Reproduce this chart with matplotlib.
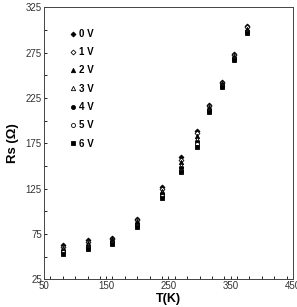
import matplotlib
matplotlib.use("Agg")
import matplotlib.pyplot as plt
from matplotlib.ticker import MultipleLocator, FixedLocator

plt.rcParams['font.family'] = ['Liberation Sans', 'DejaVu Sans']

# temperature (K)
T = [80, 120, 160, 200, 240, 270, 296, 316, 336, 356, 376]

# series resistance (ohm) for each bias voltage
rs_0v = [63, 68, 71, 92, 127, 160, 189, 217, 243, 274, 304]
rs_1v = [61, 66, 70, 90, 125, 157, 186, 216, 242, 273, 303]
rs_2v = [60, 65, 69, 89, 123, 154, 183, 215, 241, 271, 301]
rs_3v = [58, 63, 67, 87, 121, 151, 180, 213, 240, 270, 300]
rs_4v = [56, 61, 66, 86, 119, 148, 177, 212, 239, 269, 299]
rs_5v = [55, 60, 65, 84, 117, 145, 174, 211, 238, 268, 298]
rs_6v = [53, 58, 64, 83, 115, 143, 171, 210, 237, 267, 297]

labels = ['0 V', '1 V', '2 V', '3 V', '4 V', '5 V', '6 V']
series = [rs_0v, rs_1v, rs_2v, rs_3v, rs_4v, rs_5v, rs_6v]

# marker style per series: (marker, filled, size)
styles = [('D', True, 2.5), ('D', False, 2.5), ('^', True, 3.1), ('^', False, 3.1),
          ('o', True, 2.9), ('o', False, 2.9), ('s', True, 2.7)]

fig = plt.figure(figsize=(2.97, 3.07), dpi=100)
ax = fig.add_axes([0.148, 0.090, 0.838, 0.886])

for y, lab, (m, filled, ms) in zip(series, labels, styles):
    ax.plot(T, y, linestyle='none', marker=m, markersize=ms,
            markerfacecolor='black' if filled else 'white',
            markeredgecolor='black', markeredgewidth=0.6, label=lab)

ax.set_xlim(50, 450)
ax.set_ylim(25, 325)
ax.xaxis.set_major_locator(FixedLocator([50, 150, 250, 350, 450]))
ax.xaxis.set_minor_locator(MultipleLocator(20))
ax.yaxis.set_major_locator(FixedLocator([25, 75, 125, 175, 225, 275, 325]))
ax.yaxis.set_minor_locator(MultipleLocator(25))
ax.tick_params(which='both', direction='in', length=2.5, width=0.6,
               top=False, right=False, labelsize=7, labelcolor='#333333', pad=1.5)

for sp in ax.spines.values():
    sp.set_linewidth(0.7)
    sp.set_color('#444444')

ax.set_xlabel('T(K)', fontsize=9, fontweight='bold', labelpad=1)
ax.set_ylabel('Rs (\u03a9)', fontsize=9.5, fontweight='bold', labelpad=5)

leg = ax.legend(loc='upper left', bbox_to_anchor=(0.088, 0.935), frameon=False,
                prop={'size': 7, 'weight': 'bold'}, labelspacing=0.85,
                handlelength=0.6, handletextpad=0.4, borderaxespad=0)

fig.savefig('out.png', dpi=100)
